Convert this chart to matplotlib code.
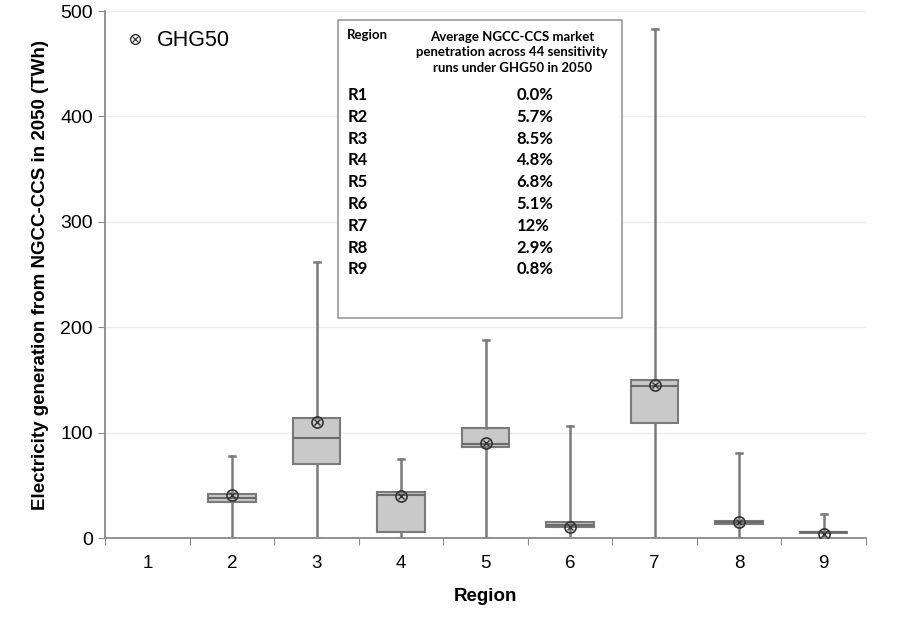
import numpy as np
import matplotlib.pyplot as plt
from matplotlib.lines import Line2D

plt.rcParams['font.family'] = ['Liberation Sans', 'DejaVu Sans']

# Box statistics per region (TWh)
regions = [1, 2, 3, 4, 5, 6, 7, 8, 9]
whis_lo = [0, 0, 0, 0, 0, 0, 0, 0, 0]
q1 = [0, 34, 70, 6, 86, 10, 109, 13, 5]
median = [0, 38, 95, 41, 89, 12, 144, 15, 5.5]
q3 = [0, 42, 114, 44, 104, 15, 150, 16, 6]
whis_hi = [0, 78, 262, 75, 188, 106, 483, 81, 22.5]
mean = [0, 41, 110, 40, 90, 10.5, 145, 15, 4]

table_regions = ["R1", "R2", "R3", "R4", "R5", "R6", "R7", "R8", "R9"]
table_share = ["0.0%", "5.7%", "8.5%", "4.8%", "6.8%", "5.1%", "12%", "2.9%", "0.8%"]

fig = plt.figure(figsize=(9, 6.17), dpi=100)
ax = fig.add_axes([0.117, 0.128, 0.845, 0.854])

stats = []
pos = []
for i, r in enumerate(regions):
    if whis_hi[i] <= 0:
        continue
    stats.append(dict(whislo=whis_lo[i], q1=q1[i], med=median[i], q3=q3[i],
                      whishi=whis_hi[i], fliers=[]))
    pos.append(r)

edge = '#7a7a7a'
ax.bxp(stats, positions=pos, widths=0.56, patch_artist=True, showfliers=False,
       capwidths=0.07,
       boxprops=dict(facecolor='#c9c9c9', edgecolor=edge, linewidth=1.5),
       medianprops=dict(color='#6a6a6a', linewidth=1.5),
       whiskerprops=dict(color=edge, linewidth=1.8),
       capprops=dict(color=edge, linewidth=1.8))

mx = [r for i, r in enumerate(regions) if whis_hi[i] > 0]
my = [mean[i] for i, r in enumerate(regions) if whis_hi[i] > 0]
ax.plot(mx, my, 'o', ms=8, mfc='none', mec='#333333', mew=1.2, zorder=5)
ax.plot(mx, my, 'x', ms=4.5, mec='#333333', mew=1.0, zorder=5)

ax.set_xlim(0.5, 9.5)
ax.set_ylim(0, 500)
ax.set_yticks([0, 100, 200, 300, 400, 500])
ax.set_xticks(np.arange(0.5, 10, 1), minor=False)
ax.set_xticklabels([])
ax.set_xticks(regions, minor=True)
ax.set_xticklabels([str(r) for r in regions], minor=True)
ax.tick_params(axis='x', which='minor', length=0, pad=12, labelsize=13.5)
ax.tick_params(axis='x', which='major', length=5, color='#8a8a8a', direction='out')
ax.tick_params(axis='y', length=5, color='#8a8a8a', labelsize=14, pad=4)
ax.grid(axis='y', color='#ececec', linewidth=1)
ax.set_axisbelow(True)
for s in ['top', 'right']:
    ax.spines[s].set_visible(False)
for s in ['left', 'bottom']:
    ax.spines[s].set_color('#8a8a8a')
    ax.spines[s].set_linewidth(1.3)

ax.set_xlabel('Region', fontsize=13.5, fontweight='bold', labelpad=12)
ax.set_ylabel('Electricity generation from NGCC-CCS in 2050 (TWh)', fontsize=13.5,
              fontweight='bold', labelpad=8)

# legend
h = (Line2D([], [], ls='none', marker='o', ms=7, mfc='none', mec='#333333', mew=1),
     Line2D([], [], ls='none', marker='x', ms=4, mec='#333333', mew=0.9))
leg = ax.legend([h], ['GHG50'], loc='upper left', bbox_to_anchor=(0.0, 1.0),
                frameon=False, fontsize=15.5, handlelength=1.0, handletextpad=0.5)

# inset table
tx0, tx1, ty0, ty1 = 0.306, 0.679, 0.417, 0.983
ax.add_patch(plt.Rectangle((tx0, ty0), tx1 - tx0, ty1 - ty0, transform=ax.transAxes,
                           facecolor='white', edgecolor='#9a9a9a', lw=1.2, zorder=6))
tfont = ['Lato', 'DejaVu Sans']
ax.text(0.318, 0.954, 'Region', transform=ax.transAxes, fontsize=9.5, family=tfont,
        fontweight='bold', va='center', ha='left', zorder=7)
ax.text(0.535, 0.922, 'Average NGCC-CCS market\npenetration across 44 sensitivity\nruns under GHG50 in 2050',
        transform=ax.transAxes, fontsize=9.5, family=tfont, fontweight='bold',
        va='center', ha='center', linespacing=1.35, zorder=7)
for k, (lab, val) in enumerate(zip(table_regions, table_share)):
    yy = 0.841 - k * 0.0414
    ax.text(0.318, yy, lab, transform=ax.transAxes, fontsize=12, family=tfont,
            fontweight='bold', va='center', ha='left', zorder=7)
    ax.text(0.541, yy, val, transform=ax.transAxes, fontsize=12, family=tfont,
            fontweight='bold', va='center', ha='left', zorder=7)

fig.savefig('out.png', dpi=100)
